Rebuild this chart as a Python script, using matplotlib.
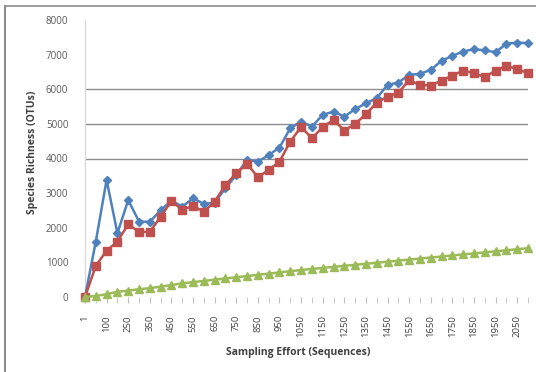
import matplotlib
matplotlib.use("Agg")
import matplotlib.pyplot as plt
from matplotlib.lines import Line2D

categories = ["1", "50", "100", "200", "250", "300", "350", "400", "450", "500",
              "550", "600", "650", "700", "750", "800", "850", "900", "950", "1000",
              "1050", "1100", "1150", "1200", "1250", "1300", "1350", "1400", "1450", "1500",
              "1550", "1600", "1650", "1700", "1750", "1800", "1850", "1900", "1950", "2000",
              "2050", "2100"]

blue = [0, 1600, 3380, 1840, 2800, 2180, 2170, 2510, 2780, 2610,
        2850, 2690, 2725, 3140, 3526, 3960, 3910, 4100, 4315, 4875,
        5067, 4922, 5260, 5356, 5211, 5424, 5597, 5742, 6127, 6194,
        6416, 6445, 6560, 6820, 6965, 7090, 7160, 7120, 7072, 7312,
        7350, 7330]

red = [0, 900, 1340, 1600, 2100, 1880, 1880, 2320, 2770, 2520,
       2630, 2465, 2755, 3237, 3575, 3844, 3459, 3670, 3910, 4490,
       4910, 4586, 4904, 5116, 4807, 5000, 5280, 5616, 5790, 5900,
       6260, 6127, 6107, 6252, 6396, 6540, 6465, 6350, 6540, 6676,
       6580, 6465]

green = [0, 30, 80, 150, 185, 225, 255, 300, 345, 395,
         430, 465, 500, 535, 570, 605, 640, 675, 710, 745,
         780, 810, 840, 870, 900, 930, 960, 990, 1020, 1050,
         1080, 1110, 1140, 1170, 1200, 1230, 1260, 1290, 1320, 1350,
         1380, 1410]

y_ticks = [0, 1000, 2000, 3000, 4000, 5000, 6000, 7000, 8000]
grid_values = [4000, 5000, 6000]

plt.rcParams['font.family'] = ['Open Sans', 'DejaVu Sans']

W, H = 536, 372
fig = plt.figure(figsize=(W / 100, H / 100), dpi=100)
fig.patch.set_facecolor("white")

ax = fig.add_axes([85 / W, (H - 297) / H, 443 / W, 277 / H])
x = list(range(len(categories)))

for gv in grid_values:
    ax.axhline(gv, color="#8c8c8c", lw=1.0, zorder=1)

ax.plot(x, blue, color="#4F81BD", lw=1.8, marker="D", ms=4.2,
        mec="#4F81BD", mfc="#4F81BD", zorder=3, clip_on=False)
ax.plot(x, red, color="#C0504D", lw=1.8, marker="s", ms=5.6,
        mec="#C0504D", mfc="#C0504D", zorder=4, clip_on=False)
ax.plot(x, green, color="#9BBB59", lw=1.8, marker="^", ms=5.8,
        mec="#9BBB59", mfc="#9BBB59", zorder=5, clip_on=False)

ax.set_xlim(0, len(categories) - 1)
ax.set_ylim(0, 8000)

ax.set_yticks(y_ticks)
ax.set_yticklabels([str(v) for v in y_ticks], fontsize=7, color="#595959")
ax.tick_params(axis="y", length=0, pad=12)

ax.set_xticks(x[::2])
ax.set_xticklabels(categories[::2], rotation=90, fontsize=6.8, color="#404040")
ax.set_xticks(x, minor=True)
ax.tick_params(axis="x", which="major", length=4, color="#bfbfbf", pad=9)
ax.tick_params(axis="x", which="minor", length=4, color="#bfbfbf")

for s in ["top", "right", "bottom"]:
    ax.spines[s].set_visible(False)
ax.spines["left"].set_color("#d9d9d9")
ax.spines["left"].set_linewidth(1.0)

fig.text(33 / W, 1 - 152 / H, "Species Richness (OTUs)", rotation=90,
         ha="center", va="center", fontsize=7.5, fontweight="bold", color="#404040")
fig.text(298 / W, 1 - 352 / H, "Sampling Effort (Sequences)",
         ha="center", va="center", fontsize=7.5, fontweight="bold", color="#404040")

# chart border (top and left visible)
fig.add_artist(Line2D([5 / W, 1.0], [1 - 6 / H, 1 - 6 / H], transform=fig.transFigure,
                      color="#8c8c8c", lw=1.2))
fig.add_artist(Line2D([5 / W, 5 / W], [0, 1 - 6 / H], transform=fig.transFigure,
                      color="#8c8c8c", lw=1.5))

fig.savefig("out.png", dpi=100, facecolor="white")
